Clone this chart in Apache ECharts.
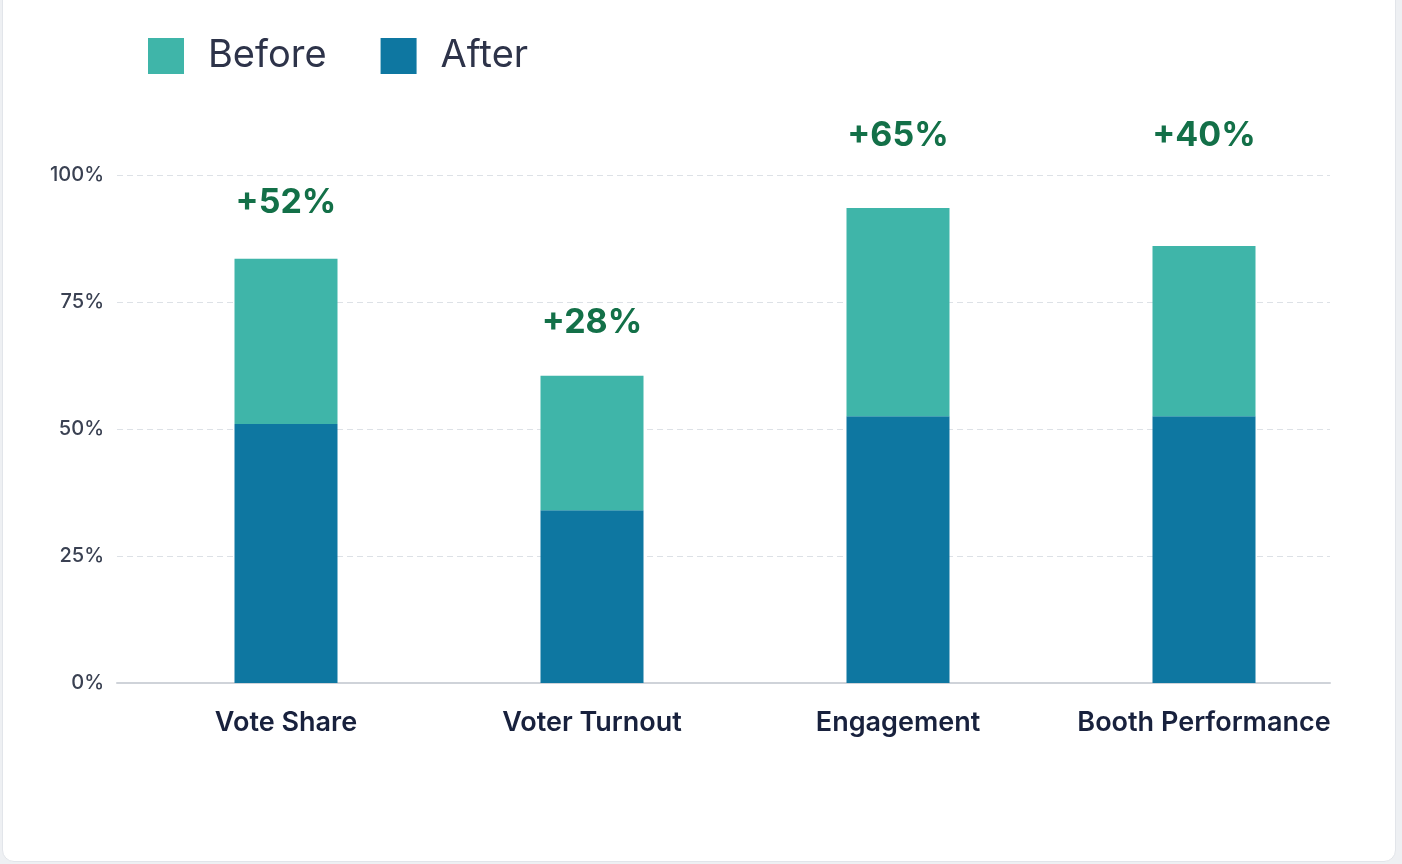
<!DOCTYPE html>
<html>
<head>
<meta charset="utf-8">
<script src="https://cdn.jsdelivr.net/npm/echarts@6/dist/echarts.min.js"></script>
<style>
  html, body { margin: 0; padding: 0; background: #eef0f3; }
  #card { position: absolute; left: 2px; top: -12px; width: 1392px; height: 872px; background: #ffffff; border: 1px solid #e2e5ea; border-radius: 12px; }
  #chart { position: absolute; left: 0; top: 0; width: 1402px; height: 864px; }
</style>
</head>
<body>
<div id="card"></div>
<div id="chart"></div>
<script>
const categories = ['Vote Share', 'Voter Turnout', 'Engagement', 'Booth Performance'];
const afterValues = [51, 34, 52.5, 52.5];
const beforeValues = [32.5, 26.5, 41, 33.5];
const changeLabels = ['+52%', '+28%', '+65%', '+40%'];
const changeLabelLevels = [94.5, 71, 107.7, 107.7];
const yTicks = [0, 25, 50, 75, 100];

const TEAL = '#3fb5a9';
const BLUE = '#0e77a1';
const FONT = 'Inter, "Noto Sans", sans-serif';

const chart = echarts.init(document.getElementById('chart'), null, { renderer: 'canvas' });

chart.setOption({
  animation: false,
  textStyle: { fontFamily: FONT },
  legend: {
    left: 143, top: 32,
    itemWidth: 36, itemHeight: 36, itemGap: 54,
    icon: 'rect',
    data: ['Before', 'After'],
    textStyle: { fontSize: 38, color: '#2d3349', fontFamily: FONT, padding: [0, 0, 0, 19] }
  },
  grid: [
    { left: 117, right: 72, top: 175, bottom: 181 },
    { left: 133, right: 45, top: 175, bottom: 181 }
  ],
  xAxis: [
    {
      type: 'category', gridIndex: 0, data: categories,
      axisLine: { lineStyle: { color: '#cfd3d9', width: 2 } },
      axisTick: { show: false }, axisLabel: { show: false }
    },
    {
      type: 'category', gridIndex: 1, data: categories,
      axisLine: { show: false }, axisTick: { show: false },
      axisLabel: { interval: 0, fontSize: 27, fontWeight: 600, color: '#18213d', margin: 26, fontFamily: FONT }
    }
  ],
  yAxis: [
    {
      type: 'value', gridIndex: 0, min: yTicks[0], max: yTicks[yTicks.length - 1], interval: 25,
      axisLine: { show: false }, axisTick: { show: false },
      axisLabel: { formatter: '{value}%', fontSize: 20, fontWeight: 500, color: '#3a4152', margin: 13 },
      splitLine: { show: true, lineStyle: { color: '#dde1e6', type: [6, 4], width: 1 } }
    },
    {
      type: 'value', gridIndex: 1, min: yTicks[0], max: yTicks[yTicks.length - 1], interval: 25,
      show: false, splitLine: { show: false }
    }
  ],
  series: [
    {
      name: 'After', type: 'bar', stack: 'total', xAxisIndex: 1, yAxisIndex: 1,
      barWidth: 103, data: afterValues, itemStyle: { color: BLUE }
    },
    {
      name: 'Before', type: 'bar', stack: 'total', xAxisIndex: 1, yAxisIndex: 1,
      barWidth: 103, data: beforeValues, itemStyle: { color: TEAL }
    },
    {
      name: 'change', type: 'scatter', xAxisIndex: 1, yAxisIndex: 1, clip: false,
      symbolSize: 1, itemStyle: { color: 'rgba(0,0,0,0)', opacity: 1 },
      data: categories.map((c, i) => [c, changeLabelLevels[i]]),
      label: {
        show: true, position: 'inside', opacity: 1,
        formatter: p => changeLabels[p.dataIndex],
        fontSize: 34, fontWeight: 'bold', color: '#137048', fontFamily: FONT
      },
      silent: true
    }
  ]
});
</script>
</body>
</html>
